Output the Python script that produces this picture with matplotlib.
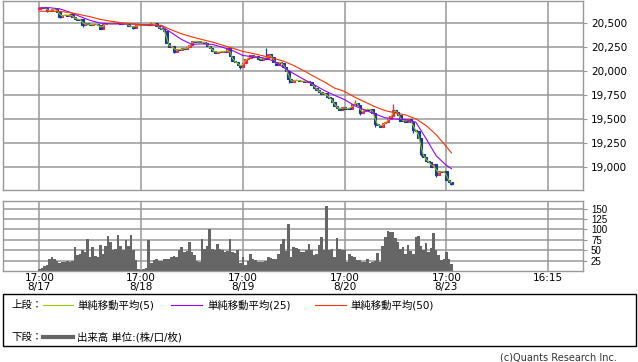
import numpy as np
import matplotlib
matplotlib.use("Agg")
import matplotlib.pyplot as plt
from matplotlib.patches import Rectangle
from matplotlib.lines import Line2D
from matplotlib.ticker import FuncFormatter

plt.rcParams['font.family'] = ['DejaVu Sans', 'Noto Sans CJK JP']

# ---------------- data ----------------
first_open = 20650
close = [
    20660, 20672, 20655, 20632, 20628, 20648, 20645, 20620, 20568, 20582,
    20590, 20578, 20592, 20560, 20548, 20538, 20542, 20478, 20498, 20490,
    20482, 20496, 20488, 20478, 20445, 20488, 20502, 20498, 20506, 20498,
    20512, 20502, 20496, 20490, 20494, 20468, 20472, 20452, 20480, 20484,
    20482, 20478, 20490, 20484, 20498, 20502, 20470, 20452, 20440, 20420,
    20290, 20250, 20268, 20205, 20232, 20220, 20238, 20230, 20248, 20275,
    20318, 20305, 20312, 20300, 20306, 20295, 20262, 20238, 20212, 20195,
    20205, 20200, 20208, 20196, 20240, 20160, 20105, 20092, 20070, 20045,
    20090, 20130, 20140, 20165, 20150, 20160, 20130, 20120, 20138, 20130,
    20175, 20150, 20095, 20070, 20098, 20085, 20040, 20000, 19920, 19885,
    19905, 19912, 19895, 19902, 19890, 19900, 19885, 19860, 19830, 19800,
    19785, 19760, 19770, 19735, 19720, 19680, 19640, 19615, 19600, 19630,
    19605, 19620, 19610, 19660, 19672, 19650, 19565, 19590, 19610, 19598,
    19605, 19560, 19450, 19440, 19420, 19460, 19470, 19500, 19530, 19600,
    19580, 19540, 19480, 19490, 19475, 19500, 19470, 19390, 19380, 19300,
    19140, 19110, 19060, 19050, 19000, 19030, 18920, 18960, 18950, 18965,
    18870, 18850, 18825,
]
# wick extremes of the bars with visible shadows (bar index, price)
wick_idx = [3, 8, 17, 24, 37, 44, 53, 74, 79, 89, 98, 124, 126, 132, 139,
            147, 150, 156, 162]
wick_val = [20615, 20555, 20465, 20440, 20445, 20515, 20190, 20255, 20025,
            20240, 19875, 19700, 19545, 19420, 19655, 19355, 19120, 18900,
            18810]
volume = [
    5, 8, 11, 14, 28, 34, 30, 24, 20, 22,
    21, 24, 22, 24, 58, 38, 42, 50, 46, 76,
    34, 58, 36, 34, 62, 40, 61, 84, 70, 50,
    52, 86, 60, 50, 74, 60, 86, 50, 26, 4,
    3, 5, 7, 74, 20, 26, 28, 23, 25, 30,
    28, 30, 34, 36, 34, 50, 58, 45, 48, 70,
    46, 38, 24, 22, 76, 54, 60, 100, 52, 50,
    66, 52, 50, 46, 48, 76, 46, 44, 50, 20,
    34, 14, 23, 42, 30, 26, 22, 21, 22, 24,
    34, 32, 28, 30, 42, 64, 76, 48, 113, 34,
    57, 55, 54, 46, 46, 50, 64, 50, 38, 40,
    62, 81, 50, 156, 50, 54, 34, 79, 52, 50,
    50, 22, 41, 36, 33, 26, 26, 22, 22, 28,
    20, 22, 23, 44, 22, 60, 82, 96, 94, 94,
    79, 69, 54, 57, 42, 62, 48, 42, 81, 84,
    60, 50, 68, 46, 55, 91, 50, 38, 26, 30,
    46, 28, 17,
]
ma_idx = list(range(0, 161, 4)) + [162]
ma25 = [
    20660, 20662, 20650, 20615, 20570, 20530, 20502, 20493, 20493, 20492,
    20488, 20482, 20470, 20400, 20330, 20280, 20285, 20280, 20250, 20215,
    20165, 20150, 20140, 20110, 20040, 19975, 19915, 19860, 19800, 19750,
    19705, 19640, 19595, 19555, 19515, 19502, 19497, 19470, 19300, 19120,
    19020, 18985,
]
ma50 = [
    20625, 20625, 20623, 20612, 20590, 20568, 20540, 20522, 20506, 20496,
    20486, 20483, 20478, 20430, 20390, 20358, 20330, 20304, 20272, 20240,
    20207, 20185, 20160, 20135, 20105, 20060, 20005, 19945, 19890, 19825,
    19790, 19730, 19680, 19630, 19590, 19565, 19545, 19505, 19435, 19340,
    19215, 19150,
]
day_ticks = [0, 40, 80, 120, 160, 200]
day_labels = ["17:00\n8/17", "17:00\n8/18", "17:00\n8/19", "17:00\n8/20",
              "17:00\n8/23", "16:15"]
price_ticks = [19000, 19250, 19500, 19750, 20000, 20250, 20500]
vol_ticks = [25, 50, 75, 100, 125, 150]

# ---------------- style ----------------
UP = '#ff1f4f'
DOWN = '#123c9c'
C5 = '#99cc00'
C25 = '#9900ff'
C50 = '#ff3300'
GRID = '#999999'
VOLC = '#666666'

W, H = 638, 362
fig = plt.figure(figsize=(W / 100, H / 100), dpi=100)


def px_axes(l, t, r, b):
    return fig.add_axes([l / W, 1 - b / H, (r - l) / W, (b - t) / H])


ax = px_axes(3.3, 0.5, 582.7, 190.3)
axv = px_axes(3.3, 201.3, 582.7, 271)

close_a = np.array(close, dtype=float)
n = len(close_a)
x = np.arange(n)
opens = np.concatenate([[first_open], close_a[:-1]])
up = close_a >= opens
bottoms = np.minimum(opens, close_a)
heights = np.abs(close_a - opens)

xlim = (-14.15, 213.6)
for a in (ax, axv):
    a.set_xlim(*xlim)
    for s in a.spines.values():
        s.set_color(GRID)
        s.set_linewidth(1.0)
    a.set_xticks(day_ticks)
    a.yaxis.tick_right()
    a.grid(True, color=GRID, linewidth=1.1)
    a.set_axisbelow(True)
    a.tick_params(axis='y', length=3, width=0.8, color=GRID, pad=3)

# wicks
for i, v in zip(wick_idx, wick_val):
    col = UP if up[i] else DOWN
    ref = bottoms[i] + heights[i] if v > close_a[i] else bottoms[i]
    ax.plot([i, i], [ref, v], color=col, lw=0.9, zorder=2,
            solid_capstyle='butt')

# candles
ax.bar(x[up], heights[up], bottom=bottoms[up], width=0.95, color=UP,
       edgecolor=UP, linewidth=0.8, zorder=2)
ax.bar(x[~up], heights[~up], bottom=bottoms[~up], width=0.95, color=DOWN,
       edgecolor=DOWN, linewidth=0.8, zorder=2)

# moving averages
ma5 = np.convolve(close_a, np.ones(2) / 2, mode='full')[:n]
ma5[0] = close_a[0]
ax.plot(x, ma5, color=C5, lw=0.75, zorder=3)
ax.plot(ma_idx, ma25, color=C25, lw=0.8, zorder=3)
ax.plot(ma_idx, ma50, color=C50, lw=0.8, zorder=3)

ax.set_ylim(18760, 20737)
ax.set_yticks(price_ticks)
ax.yaxis.set_major_formatter(FuncFormatter(lambda v, p: f"{int(v):,}"))
ax.tick_params(axis='y', labelsize=7.5)
ax.tick_params(axis='x', length=0, labelbottom=False)

# volume
axv.bar(x, volume, width=1.0, color=VOLC, linewidth=0, zorder=2)
axv.set_ylim(0, 167.5)
axv.set_yticks(vol_ticks)
for lbl in axv.get_yticklabels():
    lbl.set_fontfamily('Liberation Sans')
axv.tick_params(axis='y', labelsize=7)
axv.set_xticklabels(day_labels)
axv.tick_params(axis='x', length=0, pad=1.5, labelsize=7.5)
for lbl in axv.get_xticklabels():
    lbl.set_linespacing(0.85)
    lbl.set_verticalalignment('top')

# legend box
fig.add_artist(Rectangle((3.3 / W, 1 - 346 / H), (636 - 3.3) / W, (346 - 294) / H,
                         transform=fig.transFigure, fill=False,
                         edgecolor='black', linewidth=1.0))


def fy(y):
    return 1 - y / H


def seg(x0, x1, y, color, lw):
    fig.add_artist(Line2D([x0 / W, x1 / W], [fy(y), fy(y)], color=color,
                          linewidth=lw, transform=fig.transFigure))


fs = 7.5
fig.text(11 / W, fy(305), "上段：", fontsize=fs, va='center', ha='left')
seg(42.7, 73.3, 305, C5, 0.8)
fig.text(77 / W, fy(305), "単純移動平均(5)", fontsize=fs, va='center', ha='left')
seg(171, 201.5, 305, C25, 0.8)
fig.text(207 / W, fy(305), "単純移動平均(25)", fontsize=fs, va='center', ha='left')
seg(315, 346, 305, C50, 0.8)
fig.text(350 / W, fy(305), "単純移動平均(50)", fontsize=fs, va='center', ha='left')

fig.text(11 / W, fy(337), "下段：", fontsize=fs, va='center', ha='left')
seg(42.7, 73.3, 337, VOLC, 3.0)
fig.text(77 / W, fy(337), "出来高 単位:(株/口/枚)", fontsize=fs, va='center', ha='left')

fig.text(617 / W, fy(357), "(c)Quants Research Inc.", fontsize=7, va='center',
         ha='right', color='#333333')

fig.savefig('out.png', dpi=100)
